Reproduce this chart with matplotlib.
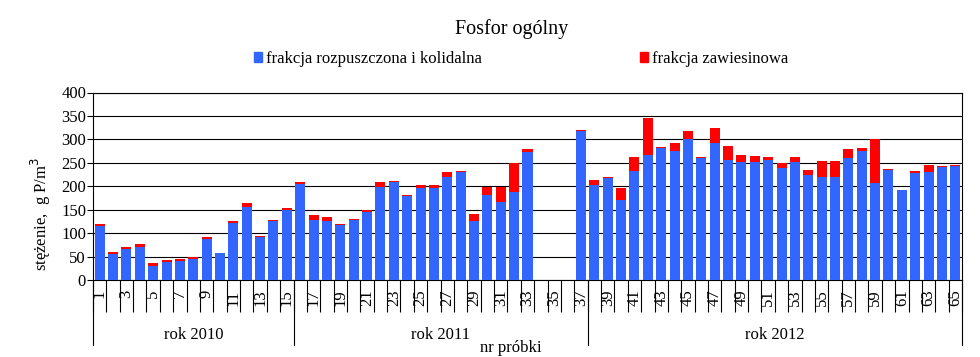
import numpy as np
import matplotlib
matplotlib.use('Agg')
import matplotlib.pyplot as plt
from matplotlib.patches import Patch
from matplotlib.transforms import blended_transform_factory

plt.rcParams['font.family'] = ['Liberation Serif', 'DejaVu Serif']

# sample numbers 1..65
samples = np.arange(1, 66)

# dissolved + colloidal fraction
blue = [116, 56, 66, 70, 30, 39, 40, 44, 87, 57,
        121, 156, 91, 126, 149, 205, 128, 125, 117, 128,
        146, 198, 209, 180, 197, 197, 220, 231, 126, 181,
        166, 188, 273, 0, 0, 0, 317, 202, 217, 170,
        233, 266, 281, 275, 300, 261, 293, 256, 251, 251,
        256, 239, 251, 224, 219, 220, 260, 275, 207, 234,
        192, 228, 230, 241, 243]
# suspended fraction
red = [4, 4, 4, 7, 7, 4, 5, 6, 4, 1.5,
       5, 9, 2, 2, 5, 4, 11, 10, 2, 2,
       4, 11, 2, 2, 5, 5, 11, 2, 15, 18,
       33, 62, 6, 0, 0, 0, 3, 12, 3, 26,
       29, 79, 2, 18, 18, 2, 31, 30, 15, 13,
       6, 10, 11, 11, 34, 34, 19, 6, 93, 2,
       0, 4, 15, 2, 2]

# year groups: (label, first sample, last sample)
years = [('rok 2010', 1, 15), ('rok 2011', 16, 37), ('rok 2012', 38, 65)]

c_blue = '#3366FF'
c_red = '#FF0000'

fig = plt.figure(figsize=(9.8, 3.57), dpi=100)
ax = fig.add_axes([93/980, 1-280/357, (962-93)/980, (280-92.5)/357])

ax.bar(samples, blue, width=0.75, color=c_blue, zorder=3)
ax.bar(samples, red, width=0.75, bottom=blue, color=c_red, zorder=3)

ax.set_xlim(0.5, 65.5)
ax.set_ylim(0, 400)
ax.set_yticks(np.arange(0, 401, 50))
ax.yaxis.grid(True, color='black', linewidth=0.8, zorder=0)
ax.set_axisbelow(True)
for s in ax.spines.values():
    s.set_linewidth(0.8)
ax.tick_params(axis='y', length=4, width=0.8, pad=1, labelsize=12)

# category separators below the axis
ax.set_xticks(np.arange(0.5, 66, 1))
ax.set_xticklabels([])
ax.tick_params(axis='x', which='major', length=23, width=0.8, direction='out')
# odd sample labels at category centers
odd = samples[::2]
ax.set_xticks(odd, minor=True)
ax.set_xticklabels([str(v) for v in odd], minor=True, rotation=90,
                   fontsize=12, va='top')
ax.tick_params(axis='x', which='minor', length=0, pad=7)

# year dividers and labels
tr = blended_transform_factory(ax.transData, ax.transAxes)
edges = [years[0][1] - 0.5] + [y[2] + 0.5 for y in years]
for e in edges:
    ax.plot([e, e], [0, -0.347], transform=tr, color='black',
            linewidth=0.8, clip_on=False)
for lab, a, b in years:
    ax.text((a + b) / 2, -0.293, lab, transform=tr, ha='center', va='center',
            fontsize=12)

fig.text(511/980, 1-356/357, 'nr próbki', ha='center', va='bottom', fontsize=12)
fig.text(41/980, 1-214/357, 'stężenie,  g P/m$^3$', rotation=90,
         ha='center', va='center', fontsize=12)
fig.text(512/980, 1-29/357, 'Fosfor ogólny', ha='center', va='center',
         fontsize=14.5)

handles = [Patch(color=c_blue), Patch(color=c_red)]
fig.legend(handles, ['frakcja rozpuszczona i kolidalna', 'frakcja zawiesinowa'],
           loc='center', bbox_to_anchor=(521/980, 1-59/357), ncol=2,
           frameon=False, fontsize=12, handlelength=0.5, handleheight=0.5,
           handletextpad=0.2, columnspacing=9.5)

fig.savefig('out.png', dpi=100)
